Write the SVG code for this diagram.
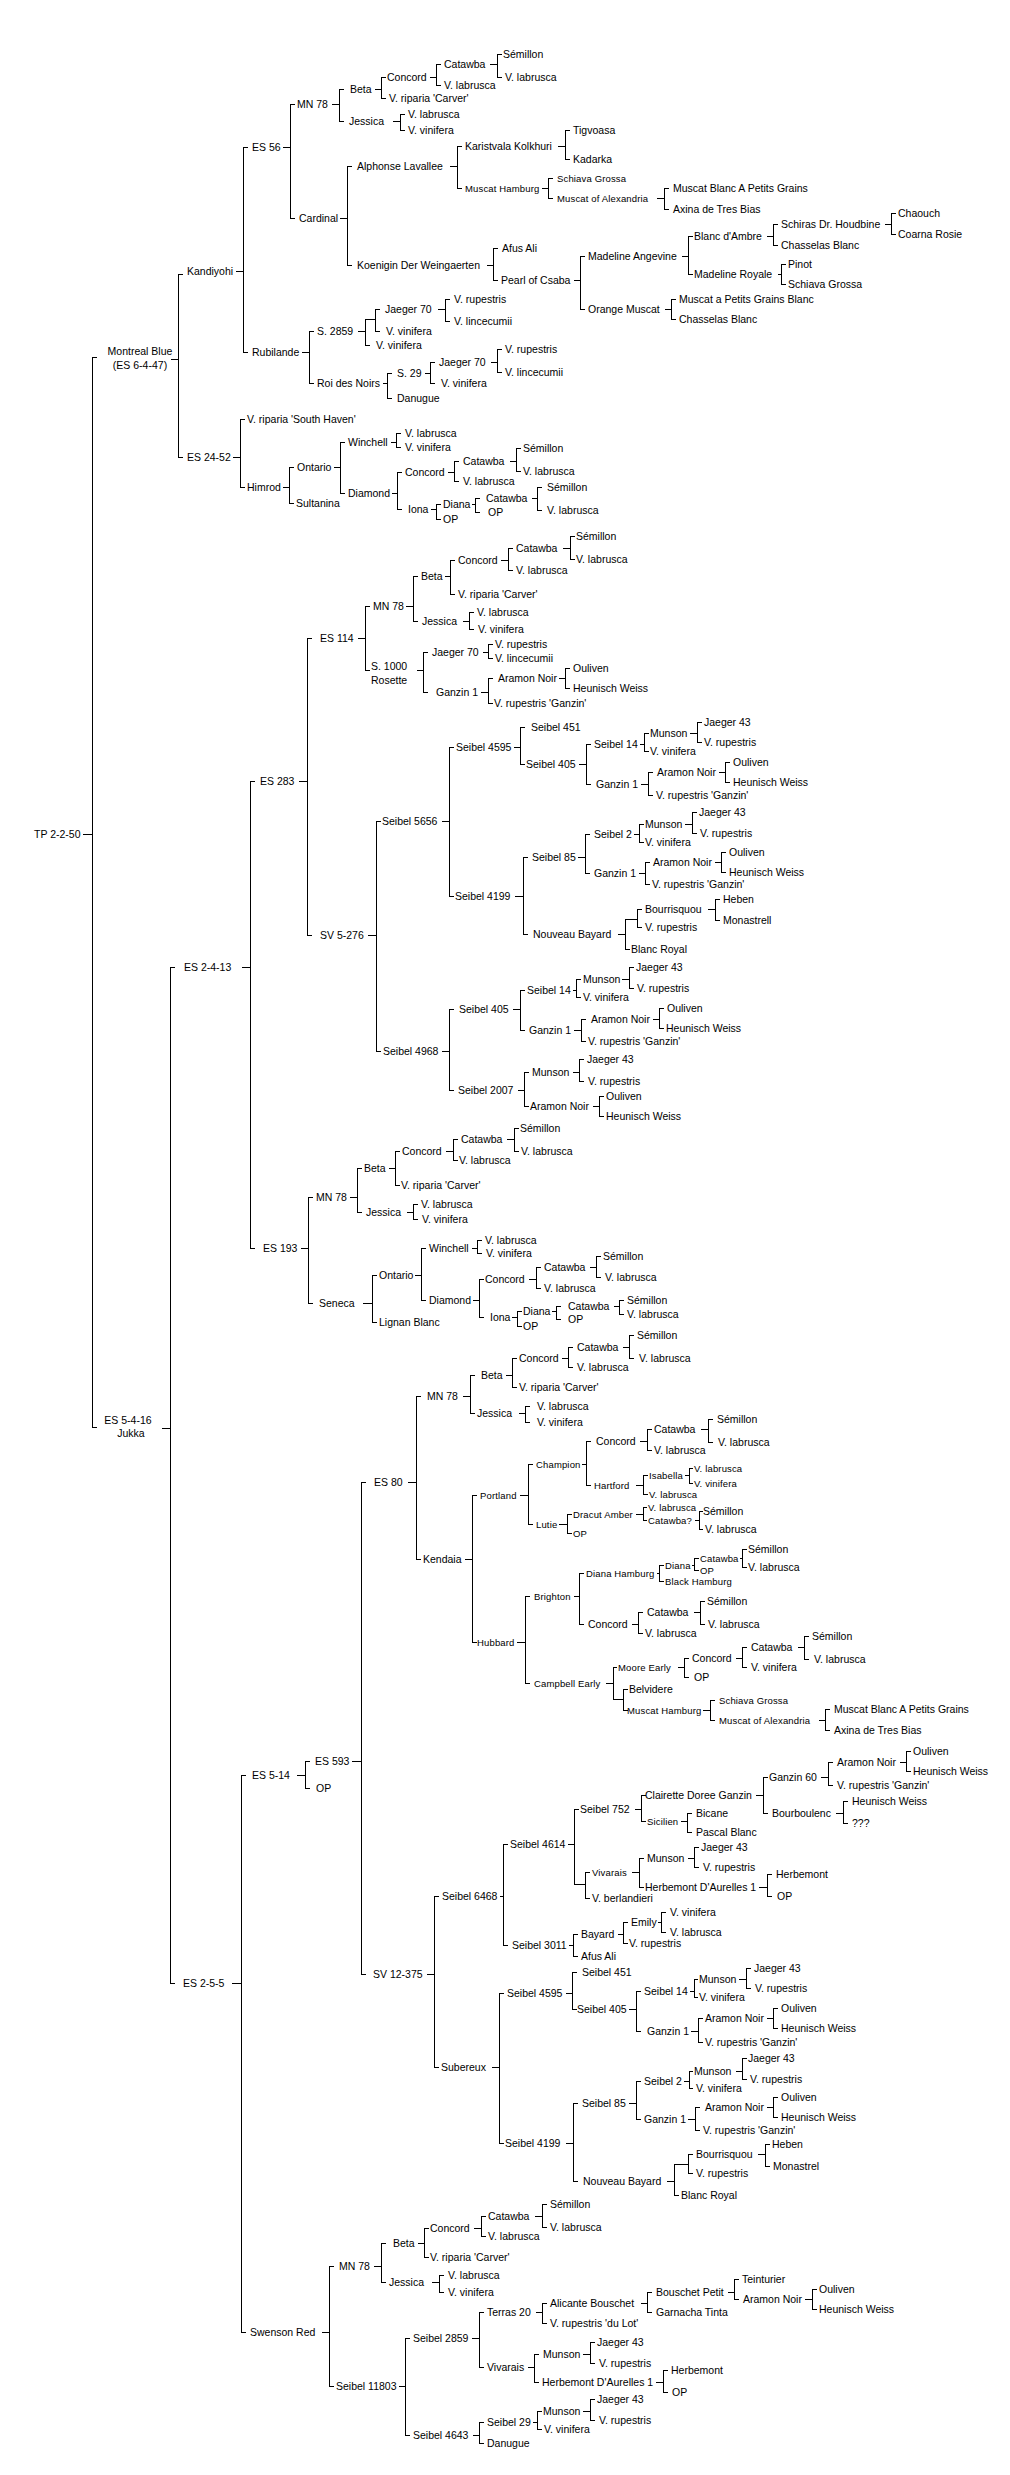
<svg xmlns="http://www.w3.org/2000/svg" width="1010" height="2475" viewBox="0 0 1010 2475">
<style>
text{font-family:"Liberation Sans",Arial,sans-serif;font-size:10.5px;fill:#000;dominant-baseline:central}
.s{font-size:9.5px;letter-spacing:.15px}
.m{text-anchor:middle}
#conn path{fill:none;stroke:#000;stroke-width:1;shape-rendering:crispEdges}
</style>
<rect width="1010" height="2475" fill="#fff"/>
<g id="conn" transform="translate(.5,.5)"><path d="
M82,834H92M96,357H92V1427H96
M170,359H178M182,274H178V457H182
M235,271H243M247,147H243V352H247
M282,147H290M294,104H290V218H294
M331,104H339M343,89H339V121H343
M374,89H381M385,77H381V98H385
M429,77H436M440,64H436V85H440
M489,64H497M501,54H497V77H501
M392,121H400M404,114H400V130H404
M339,218H347M351,166H347V265H351
M449,166H457M461,146H457V188H461
M557,146H565M569,130H565V159H569
M541,188H548M552,178H548V198H552
M656,198H664M668,188H664V209H668
M486,265H493M497,248H493V280H497
M573,280H580M584,256H580V309H584
M681,256H688M692,236H688V274H692
M766,236H773M777,224H773V245H777
M884,224H891M895,213H891V234H895
M777,274H781M785,264H781V284H785
M664,309H671M675,299H671V319H675
M301,352H309M313,331H309V383H313
M357,331H365M375,319H365V345H369M379,309H375V331H379
M437,309H445M449,299H445V321H449
M382,383H387M391,373H387V398H391
M424,373H430M434,362H430V383H434
M490,362H497M501,349H497V372H501
M232,457H240M244,419H240V487H244
M282,487H289M293,467H289V503H293
M333,467H340M344,442H340V493H344
M390,442H396M400,433H396V447H400
M391,493H397M401,472H397V509H401
M447,472H454M458,461H454V481H458
M509,461H516M520,448H516V471H520
M430,509H436M440,504H436V519H440
M471,504H475M479,498H475V512H479
M531,498H537M541,487H537V510H541
M161,1428H170M174,967H170V1983H174
M241,967H250M254,781H250V1248H254
M298,781H307M311,638H307V935H311
M357,638H365M369,606H365V670H369
M405,606H413M417,576H413V621H417
M444,576H450M454,560H450V594H454
M500,560H508M512,548H508V570H512
M562,548H570M574,536H570V559H574
M462,621H469M473,612H469V629H473
M416,670H423M427,652H423V692H427
M482,652H488M492,644H488V658H492
M480,692H488M492,678H488V703H492
M558,678H565M569,668H565V688H569
M367,935H376M380,821H376V1051H380
M441,821H449M453,747H449V896H453
M513,747H520M524,727H520V764H524
M578,764H586M590,744H586V784H590
M639,744H644M648,733H644V751H648
M689,733H697M701,722H697V742H701
M640,784H648M652,772H648V795H652
M718,772H725M729,762H725V782H729
M514,896H523M527,857H523V934H527
M577,857H585M589,834H585V873H589
M633,834H639M643,824H639V842H643
M684,824H692M696,812H692V833H696
M638,873H645M649,862H645V884H649
M714,862H721M725,852H721V872H725
M617,934H625M637,919H625V949H629M641,909H637V927H641
M707,909H715M719,899H715V920H719
M441,1051H449M453,1009H449V1090H453
M512,1009H520M524,990H520V1030H524
M572,990H576M580,979H576V997H580
M621,979H629M633,967H629V988H633
M573,1030H581M585,1019H581V1041H585
M652,1019H659M663,1008H659V1028H663
M517,1090H524M528,1072H524V1106H528
M572,1072H579M583,1059H579V1081H583
M592,1106H599M603,1096H599V1116H603
M300,1248H308M312,1197H308V1303H312
M349,1197H357M361,1168H357V1212H361
M388,1168H395M399,1151H395V1185H399
M445,1151H453M457,1139H453V1160H457
M506,1139H514M518,1128H514V1151H518
M406,1212H413M417,1204H413V1219H417
M362,1303H372M376,1275H372V1322H376
M414,1275H421M425,1248H421V1300H425
M471,1248H477M481,1240H477V1253H481
M472,1300H479M483,1279H479V1317H483
M528,1279H536M540,1267H536V1288H540
M589,1267H596M600,1256H596V1277H600
M511,1317H517M521,1311H517V1326H521
M551,1311H556M560,1306H556V1319H560
M613,1306H619M623,1300H619V1314H623
M231,1983H241M245,1775H241V2332H245
M296,1775H305M309,1761H305V1788H309
M351,1761H361M365,1482H361V1974H365
M407,1482H416M420,1396H416V1559H420
M462,1396H470M474,1375H470V1413H474
M505,1375H512M516,1358H512V1387H516
M561,1358H568M572,1347H568V1367H572
M622,1347H629M633,1335H629V1358H633
M518,1413H525M529,1406H525V1422H529
M464,1559H472M476,1495H472V1642H476
M519,1495H528M532,1464H528V1524H532
M581,1464H586M590,1441H586V1485H590
M639,1441H647M651,1429H647V1450H651
M700,1429H708M712,1419H708V1442H712
M635,1485H643M647,1475H643V1494H647
M684,1475H689M692,1468H689V1483H692
M558,1524H567M571,1514H567V1533H571
M635,1514H643M646,1507H643V1520H646
M694,1520H699M702,1511H699V1529H702
M516,1642H525M529,1596H525V1683H529
M573,1596H579M583,1573H579V1624H583
M656,1573H659M663,1565H659V1581H663
M691,1565H694M698,1558H694V1570H698
M739,1558H742M746,1549H742V1567H746
M631,1624H638M642,1612H638V1633H642
M693,1612H700M704,1601H700V1624H704
M605,1683H613M616,1667H613V1699H623M627,1689H623V1710H627
M677,1667H684M688,1658H684V1677H688
M735,1658H742M746,1647H742V1667H746
M797,1647H804M808,1636H804V1659H808
M702,1710H710M714,1700H710V1720H714
M818,1720H825M829,1709H825V1730H829
M426,1974H434M438,1896H434V2067H438
M499,1896H503M507,1844H503V1945H507
M567,1844H574M578,1809H574V1884H585M589,1872H585V1898H589
M634,1809H641M645,1795H641V1821H645
M755,1795H763M767,1777H763V1813H767
M820,1777H828M832,1762H828V1785H832
M899,1762H906M910,1751H906V1771H910
M835,1813H843M847,1801H843V1823H847
M680,1821H687M691,1813H687V1832H691
M631,1872H639M643,1858H639V1887H643
M687,1858H694M698,1847H694V1867H698
M758,1887H767M771,1874H767V1896H771
M568,1945H573M577,1934H573V1956H577
M617,1934H623M627,1922H623V1943H627
M657,1922H661M665,1912H661V1932H665
M491,2067H499M503,1993H499V2143H503
M565,1993H572M576,1972H572V2009H576
M628,2009H636M640,1991H636V2031H640
M689,1991H694M697,1979H694V1997H697
M738,1979H746M750,1968H746V1988H750
M690,2031H698M702,2018H698V2042H702
M766,2018H773M777,2008H773V2028H777
M565,2143H573M577,2103H573V2181H577
M628,2103H636M640,2081H636V2119H640
M683,2081H689M692,2071H689V2088H692
M735,2071H742M746,2058H742V2079H746
M687,2119H695M699,2107H695V2130H699
M766,2107H773M777,2097H773V2117H777
M666,2181H674M688,2164H674V2195H678M692,2154H688V2173H692
M757,2154H765M769,2144H765V2166H769
M321,2332H329M333,2266H329V2386H333
M373,2266H381M385,2243H381V2282H385
M417,2243H424M428,2228H424V2257H428
M473,2228H481M485,2216H481V2236H485
M534,2216H542M546,2204H542V2227H546
M431,2282H439M443,2275H439V2292H443
M398,2386H405M409,2338H405V2435H409
M471,2338H479M483,2312H479V2367H483
M535,2312H542M546,2303H542V2323H546
M640,2303H647M651,2292H647V2312H651
M727,2292H734M738,2279H734V2299H738
M804,2299H812M816,2289H812V2309H816
M527,2367H534M538,2354H534V2382H538
M582,2354H590M594,2342H590V2363H594
M655,2382H663M667,2370H663V2392H667
M472,2435H479M483,2422H479V2443H483
M532,2422H537M541,2411H537V2429H541
M582,2411H590M594,2399H590V2420H594
"/></g>
<g id="nodes">
<g id="n1"><text x="34" y="834">TP 2-2-50</text></g>
<g id="n2"><text class="m" x="140" y="351">Montreal Blue</text><text class="m" x="140" y="365">(ES 6-4-47)</text></g>
<g id="n3"><text x="187" y="271">Kandiyohi</text></g>
<g id="n4"><text x="252" y="147">ES 56</text></g>
<g id="n5"><text x="297" y="104">MN 78</text></g>
<g id="n6"><text x="350" y="89">Beta</text></g>
<g id="n7"><text x="387" y="77">Concord</text></g>
<g id="n8"><text x="444" y="64">Catawba</text></g>
<g id="n9"><text x="503" y="54">Sémillon</text></g>
<g id="n10"><text x="505" y="77">V. labrusca</text></g>
<g id="n11"><text x="444" y="85">V. labrusca</text></g>
<g id="n12"><text x="389" y="98">V. riparia 'Carver'</text></g>
<g id="n13"><text x="349" y="121">Jessica</text></g>
<g id="n14"><text x="408" y="114">V. labrusca</text></g>
<g id="n15"><text x="408" y="130">V. vinifera</text></g>
<g id="n16"><text x="299" y="218">Cardinal</text></g>
<g id="n17"><text x="357" y="166">Alphonse Lavallee</text></g>
<g id="n18"><text x="465" y="146">Karistvala Kolkhuri</text></g>
<g id="n19"><text x="573" y="130">Tigvoasa</text></g>
<g id="n20"><text x="573" y="159">Kadarka</text></g>
<g id="n21"><text class="s" x="465" y="188">Muscat Hamburg</text></g>
<g id="n22"><text class="s" x="557" y="178">Schiava Grossa</text></g>
<g id="n23"><text class="s" x="557" y="198">Muscat of Alexandria</text></g>
<g id="n24"><text x="673" y="188">Muscat Blanc A Petits Grains</text></g>
<g id="n25"><text x="673" y="209">Axina de Tres Bias</text></g>
<g id="n26"><text x="357" y="265">Koenigin Der Weingaerten</text></g>
<g id="n27"><text x="502" y="248">Afus Ali</text></g>
<g id="n28"><text x="501" y="280">Pearl of Csaba</text></g>
<g id="n29"><text x="588" y="256">Madeline Angevine</text></g>
<g id="n30"><text x="694" y="236">Blanc d'Ambre</text></g>
<g id="n31"><text x="781" y="224">Schiras Dr. Houdbine</text></g>
<g id="n32"><text x="898" y="213">Chaouch</text></g>
<g id="n33"><text x="898" y="234">Coarna Rosie</text></g>
<g id="n34"><text x="781" y="245">Chasselas Blanc</text></g>
<g id="n35"><text x="694" y="274">Madeline Royale</text></g>
<g id="n36"><text x="788" y="264">Pinot</text></g>
<g id="n37"><text x="788" y="284">Schiava Grossa</text></g>
<g id="n38"><text x="588" y="309">Orange Muscat</text></g>
<g id="n39"><text x="679" y="299">Muscat a Petits Grains Blanc</text></g>
<g id="n40"><text x="679" y="319">Chasselas Blanc</text></g>
<g id="n41"><text x="252" y="352">Rubilande</text></g>
<g id="n42"><text x="317" y="331">S. 2859</text></g>
<g id="n43"><text x="385" y="309">Jaeger 70</text></g>
<g id="n44"><text x="454" y="299">V. rupestris</text></g>
<g id="n45"><text x="454" y="321">V. lincecumii</text></g>
<g id="n46"><text x="386" y="331">V. vinifera</text></g>
<g id="n47"><text x="376" y="345">V. vinifera</text></g>
<g id="n48"><text x="317" y="383">Roi des Noirs</text></g>
<g id="n49"><text x="397" y="373">S. 29</text></g>
<g id="n50"><text x="439" y="362">Jaeger 70</text></g>
<g id="n51"><text x="505" y="349">V. rupestris</text></g>
<g id="n52"><text x="505" y="372">V. lincecumii</text></g>
<g id="n53"><text x="441" y="383">V. vinifera</text></g>
<g id="n54"><text x="397" y="398">Danugue</text></g>
<g id="n55"><text x="187" y="457">ES 24-52</text></g>
<g id="n56"><text x="247" y="419">V. riparia 'South Haven'</text></g>
<g id="n57"><text x="247" y="487">Himrod</text></g>
<g id="n58"><text x="297" y="467">Ontario</text></g>
<g id="n59"><text x="348" y="442">Winchell</text></g>
<g id="n60"><text x="405" y="433">V. labrusca</text></g>
<g id="n61"><text x="405" y="447">V. vinifera</text></g>
<g id="n62"><text x="348" y="493">Diamond</text></g>
<g id="n63"><text x="405" y="472">Concord</text></g>
<g id="n64"><text x="463" y="461">Catawba</text></g>
<g id="n65"><text x="523" y="448">Sémillon</text></g>
<g id="n66"><text x="523" y="471">V. labrusca</text></g>
<g id="n67"><text x="463" y="481">V. labrusca</text></g>
<g id="n68"><text x="408" y="509">Iona</text></g>
<g id="n69"><text x="443" y="504">Diana</text></g>
<g id="n70"><text x="443" y="519">OP</text></g>
<g id="n71"><text x="486" y="498">Catawba</text></g>
<g id="n72"><text x="488" y="512">OP</text></g>
<g id="n73"><text x="547" y="487">Sémillon</text></g>
<g id="n74"><text x="547" y="510">V. labrusca</text></g>
<g id="n75"><text x="296" y="503">Sultanina</text></g>
<g id="n76"><text class="m" x="128" y="1420">ES 5-4-16</text><text class="m" x="131" y="1433">Jukka</text></g>
<g id="n77"><text x="184" y="967">ES 2-4-13</text></g>
<g id="n78"><text x="260" y="781">ES 283</text></g>
<g id="n79"><text x="320" y="638">ES 114</text></g>
<g id="n80"><text x="373" y="606">MN 78</text></g>
<g id="n81"><text x="421" y="576">Beta</text></g>
<g id="n82"><text x="458" y="560">Concord</text></g>
<g id="n83"><text x="516" y="548">Catawba</text></g>
<g id="n84"><text x="576" y="536">Sémillon</text></g>
<g id="n85"><text x="576" y="559">V. labrusca</text></g>
<g id="n86"><text x="516" y="570">V. labrusca</text></g>
<g id="n87"><text x="458" y="594">V. riparia 'Carver'</text></g>
<g id="n88"><text x="422" y="621">Jessica</text></g>
<g id="n89"><text x="477" y="612">V. labrusca</text></g>
<g id="n90"><text x="478" y="629">V. vinifera</text></g>
<g id="n91"><text x="371" y="666">S. 1000</text><text x="371" y="680">Rosette</text></g>
<g id="n92"><text x="432" y="652">Jaeger 70</text></g>
<g id="n93"><text x="495" y="644">V. rupestris</text></g>
<g id="n94"><text x="495" y="658">V. lincecumii</text></g>
<g id="n95"><text x="436" y="692">Ganzin 1</text></g>
<g id="n96"><text x="498" y="678">Aramon Noir</text></g>
<g id="n97"><text x="573" y="668">Ouliven</text></g>
<g id="n98"><text x="573" y="688">Heunisch Weiss</text></g>
<g id="n99"><text x="494" y="703">V. rupestris 'Ganzin'</text></g>
<g id="n100"><text x="320" y="935">SV 5-276</text></g>
<g id="n101"><text x="382" y="821">Seibel 5656</text></g>
<g id="n102"><text x="456" y="747">Seibel 4595</text></g>
<g id="n103"><text x="531" y="727">Seibel 451</text></g>
<g id="n104"><text x="526" y="764">Seibel 405</text></g>
<g id="n105"><text x="594" y="744">Seibel 14</text></g>
<g id="n106"><text x="650" y="733">Munson</text></g>
<g id="n107"><text x="704" y="722">Jaeger 43</text></g>
<g id="n108"><text x="704" y="742">V. rupestris</text></g>
<g id="n109"><text x="650" y="751">V. vinifera</text></g>
<g id="n110"><text x="596" y="784">Ganzin 1</text></g>
<g id="n111"><text x="657" y="772">Aramon Noir</text></g>
<g id="n112"><text x="733" y="762">Ouliven</text></g>
<g id="n113"><text x="733" y="782">Heunisch Weiss</text></g>
<g id="n114"><text x="656" y="795">V. rupestris 'Ganzin'</text></g>
<g id="n115"><text x="455" y="896">Seibel 4199</text></g>
<g id="n116"><text x="532" y="857">Seibel 85</text></g>
<g id="n117"><text x="594" y="834">Seibel 2</text></g>
<g id="n118"><text x="645" y="824">Munson</text></g>
<g id="n119"><text x="699" y="812">Jaeger 43</text></g>
<g id="n120"><text x="700" y="833">V. rupestris</text></g>
<g id="n121"><text x="645" y="842">V. vinifera</text></g>
<g id="n122"><text x="594" y="873">Ganzin 1</text></g>
<g id="n123"><text x="653" y="862">Aramon Noir</text></g>
<g id="n124"><text x="729" y="852">Ouliven</text></g>
<g id="n125"><text x="729" y="872">Heunisch Weiss</text></g>
<g id="n126"><text x="652" y="884">V. rupestris 'Ganzin'</text></g>
<g id="n127"><text x="533" y="934">Nouveau Bayard</text></g>
<g id="n128"><text x="645" y="909">Bourrisquou</text></g>
<g id="n129"><text x="723" y="899">Heben</text></g>
<g id="n130"><text x="723" y="920">Monastrell</text></g>
<g id="n131"><text x="645" y="927">V. rupestris</text></g>
<g id="n132"><text x="631" y="949">Blanc Royal</text></g>
<g id="n133"><text x="383" y="1051">Seibel 4968</text></g>
<g id="n134"><text x="459" y="1009">Seibel 405</text></g>
<g id="n135"><text x="527" y="990">Seibel 14</text></g>
<g id="n136"><text x="583" y="979">Munson</text></g>
<g id="n137"><text x="636" y="967">Jaeger 43</text></g>
<g id="n138"><text x="637" y="988">V. rupestris</text></g>
<g id="n139"><text x="583" y="997">V. vinifera</text></g>
<g id="n140"><text x="529" y="1030">Ganzin 1</text></g>
<g id="n141"><text x="591" y="1019">Aramon Noir</text></g>
<g id="n142"><text x="667" y="1008">Ouliven</text></g>
<g id="n143"><text x="666" y="1028">Heunisch Weiss</text></g>
<g id="n144"><text x="588" y="1041">V. rupestris 'Ganzin'</text></g>
<g id="n145"><text x="458" y="1090">Seibel 2007</text></g>
<g id="n146"><text x="532" y="1072">Munson</text></g>
<g id="n147"><text x="587" y="1059">Jaeger 43</text></g>
<g id="n148"><text x="588" y="1081">V. rupestris</text></g>
<g id="n149"><text x="530" y="1106">Aramon Noir</text></g>
<g id="n150"><text x="606" y="1096">Ouliven</text></g>
<g id="n151"><text x="606" y="1116">Heunisch Weiss</text></g>
<g id="n152"><text x="263" y="1248">ES 193</text></g>
<g id="n153"><text x="316" y="1197">MN 78</text></g>
<g id="n154"><text x="364" y="1168">Beta</text></g>
<g id="n155"><text x="402" y="1151">Concord</text></g>
<g id="n156"><text x="461" y="1139">Catawba</text></g>
<g id="n157"><text x="520" y="1128">Sémillon</text></g>
<g id="n158"><text x="521" y="1151">V. labrusca</text></g>
<g id="n159"><text x="459" y="1160">V. labrusca</text></g>
<g id="n160"><text x="401" y="1185">V. riparia 'Carver'</text></g>
<g id="n161"><text x="366" y="1212">Jessica</text></g>
<g id="n162"><text x="421" y="1204">V. labrusca</text></g>
<g id="n163"><text x="422" y="1219">V. vinifera</text></g>
<g id="n164"><text x="319" y="1303">Seneca</text></g>
<g id="n165"><text x="379" y="1275">Ontario</text></g>
<g id="n166"><text x="429" y="1248">Winchell</text></g>
<g id="n167"><text x="485" y="1240">V. labrusca</text></g>
<g id="n168"><text x="486" y="1253">V. vinifera</text></g>
<g id="n169"><text x="429" y="1300">Diamond</text></g>
<g id="n170"><text x="485" y="1279">Concord</text></g>
<g id="n171"><text x="544" y="1267">Catawba</text></g>
<g id="n172"><text x="603" y="1256">Sémillon</text></g>
<g id="n173"><text x="605" y="1277">V. labrusca</text></g>
<g id="n174"><text x="544" y="1288">V. labrusca</text></g>
<g id="n175"><text x="490" y="1317">Iona</text></g>
<g id="n176"><text x="523" y="1311">Diana</text></g>
<g id="n177"><text x="523" y="1326">OP</text></g>
<g id="n178"><text x="568" y="1306">Catawba</text></g>
<g id="n179"><text x="568" y="1319">OP</text></g>
<g id="n180"><text x="627" y="1300">Sémillon</text></g>
<g id="n181"><text x="627" y="1314">V. labrusca</text></g>
<g id="n182"><text x="379" y="1322">Lignan Blanc</text></g>
<g id="n183"><text x="183" y="1983">ES 2-5-5</text></g>
<g id="n184"><text x="252" y="1775">ES 5-14</text></g>
<g id="n185"><text x="315" y="1761">ES 593</text></g>
<g id="n186"><text x="316" y="1788">OP</text></g>
<g id="n187"><text x="374" y="1482">ES 80</text></g>
<g id="n188"><text x="427" y="1396">MN 78</text></g>
<g id="n189"><text x="481" y="1375">Beta</text></g>
<g id="n190"><text x="519" y="1358">Concord</text></g>
<g id="n191"><text x="577" y="1347">Catawba</text></g>
<g id="n192"><text x="637" y="1335">Sémillon</text></g>
<g id="n193"><text x="639" y="1358">V. labrusca</text></g>
<g id="n194"><text x="577" y="1367">V. labrusca</text></g>
<g id="n195"><text x="519" y="1387">V. riparia 'Carver'</text></g>
<g id="n196"><text x="477" y="1413">Jessica</text></g>
<g id="n197"><text x="537" y="1406">V. labrusca</text></g>
<g id="n198"><text x="537" y="1422">V. vinifera</text></g>
<g id="n199"><text x="423" y="1559">Kendaia</text></g>
<g id="n200"><text class="s" x="480" y="1495">Portland</text></g>
<g id="n201"><text class="s" x="536" y="1464">Champion</text></g>
<g id="n202"><text x="596" y="1441">Concord</text></g>
<g id="n203"><text x="654" y="1429">Catawba</text></g>
<g id="n204"><text x="717" y="1419">Sémillon</text></g>
<g id="n205"><text x="718" y="1442">V. labrusca</text></g>
<g id="n206"><text x="654" y="1450">V. labrusca</text></g>
<g id="n207"><text class="s" x="594" y="1485">Hartford</text></g>
<g id="n208"><text class="s" x="649" y="1475">Isabella</text></g>
<g id="n209"><text class="s" x="694" y="1468">V. labrusca</text></g>
<g id="n210"><text class="s" x="694" y="1483">V. vinifera</text></g>
<g id="n211"><text class="s" x="649" y="1494">V. labrusca</text></g>
<g id="n212"><text class="s" x="536" y="1524">Lutie</text></g>
<g id="n213"><text class="s" x="573" y="1514">Dracut Amber</text></g>
<g id="n214"><text class="s" x="648" y="1507">V. labrusca</text></g>
<g id="n215"><text class="s" x="648" y="1520">Catawba?</text></g>
<g id="n216"><text x="703" y="1511">Sémillon</text></g>
<g id="n217"><text x="705" y="1529">V. labrusca</text></g>
<g id="n218"><text class="s" x="573" y="1533">OP</text></g>
<g id="n219"><text class="s" x="477" y="1642">Hubbard</text></g>
<g id="n220"><text class="s" x="534" y="1596">Brighton</text></g>
<g id="n221"><text class="s" x="586" y="1573">Diana Hamburg</text></g>
<g id="n222"><text class="s" x="665" y="1565">Diana</text></g>
<g id="n223"><text class="s" x="700" y="1558">Catawba</text></g>
<g id="n224"><text x="748" y="1549">Sémillon</text></g>
<g id="n225"><text x="748" y="1567">V. labrusca</text></g>
<g id="n226"><text class="s" x="700" y="1570">OP</text></g>
<g id="n227"><text class="s" x="665" y="1581">Black Hamburg</text></g>
<g id="n228"><text x="588" y="1624">Concord</text></g>
<g id="n229"><text x="647" y="1612">Catawba</text></g>
<g id="n230"><text x="707" y="1601">Sémillon</text></g>
<g id="n231"><text x="708" y="1624">V. labrusca</text></g>
<g id="n232"><text x="645" y="1633">V. labrusca</text></g>
<g id="n233"><text class="s" x="534" y="1683">Campbell Early</text></g>
<g id="n234"><text class="s" x="618" y="1667">Moore Early</text></g>
<g id="n235"><text x="692" y="1658">Concord</text></g>
<g id="n236"><text x="751" y="1647">Catawba</text></g>
<g id="n237"><text x="812" y="1636">Sémillon</text></g>
<g id="n238"><text x="814" y="1659">V. labrusca</text></g>
<g id="n239"><text x="751" y="1667">V. vinifera</text></g>
<g id="n240"><text x="694" y="1677">OP</text></g>
<g id="n241"><text x="629" y="1689">Belvidere</text></g>
<g id="n242"><text class="s" x="627" y="1710">Muscat Hamburg</text></g>
<g id="n243"><text class="s" x="719" y="1700">Schiava Grossa</text></g>
<g id="n244"><text class="s" x="719" y="1720">Muscat of Alexandria</text></g>
<g id="n245"><text x="834" y="1709">Muscat Blanc A Petits Grains</text></g>
<g id="n246"><text x="834" y="1730">Axina de Tres Bias</text></g>
<g id="n247"><text x="373" y="1974">SV 12-375</text></g>
<g id="n248"><text x="442" y="1896">Seibel 6468</text></g>
<g id="n249"><text x="510" y="1844">Seibel 4614</text></g>
<g id="n250"><text x="580" y="1809">Seibel 752</text></g>
<g id="n251"><text x="645" y="1795">Clairette Doree Ganzin</text></g>
<g id="n252"><text x="769" y="1777">Ganzin 60</text></g>
<g id="n253"><text x="837" y="1762">Aramon Noir</text></g>
<g id="n254"><text x="913" y="1751">Ouliven</text></g>
<g id="n255"><text x="913" y="1771">Heunisch Weiss</text></g>
<g id="n256"><text x="837" y="1785">V. rupestris 'Ganzin'</text></g>
<g id="n257"><text x="772" y="1813">Bourboulenc</text></g>
<g id="n258"><text x="852" y="1801">Heunisch Weiss</text></g>
<g id="n259"><text x="852" y="1823">???</text></g>
<g id="n260"><text class="s" x="647" y="1821">Sicilien</text></g>
<g id="n261"><text x="696" y="1813">Bicane</text></g>
<g id="n262"><text x="696" y="1832">Pascal Blanc</text></g>
<g id="n263"><text class="s" x="592" y="1872">Vivarais</text></g>
<g id="n264"><text x="647" y="1858">Munson</text></g>
<g id="n265"><text x="701" y="1847">Jaeger 43</text></g>
<g id="n266"><text x="703" y="1867">V. rupestris</text></g>
<g id="n267"><text x="645" y="1887">Herbemont D'Aurelles 1</text></g>
<g id="n268"><text x="776" y="1874">Herbemont</text></g>
<g id="n269"><text x="777" y="1896">OP</text></g>
<g id="n270"><text x="592" y="1898">V. berlandieri</text></g>
<g id="n271"><text x="512" y="1945">Seibel 3011</text></g>
<g id="n272"><text x="581" y="1934">Bayard</text></g>
<g id="n273"><text x="631" y="1922">Emily</text></g>
<g id="n274"><text x="670" y="1912">V. vinifera</text></g>
<g id="n275"><text x="670" y="1932">V. labrusca</text></g>
<g id="n276"><text x="629" y="1943">V. rupestris</text></g>
<g id="n277"><text x="581" y="1956">Afus Ali</text></g>
<g id="n278"><text x="441" y="2067">Subereux</text></g>
<g id="n279"><text x="507" y="1993">Seibel 4595</text></g>
<g id="n280"><text x="582" y="1972">Seibel 451</text></g>
<g id="n281"><text x="577" y="2009">Seibel 405</text></g>
<g id="n282"><text x="644" y="1991">Seibel 14</text></g>
<g id="n283"><text x="699" y="1979">Munson</text></g>
<g id="n284"><text x="754" y="1968">Jaeger 43</text></g>
<g id="n285"><text x="755" y="1988">V. rupestris</text></g>
<g id="n286"><text x="699" y="1997">V. vinifera</text></g>
<g id="n287"><text x="647" y="2031">Ganzin 1</text></g>
<g id="n288"><text x="705" y="2018">Aramon Noir</text></g>
<g id="n289"><text x="781" y="2008">Ouliven</text></g>
<g id="n290"><text x="781" y="2028">Heunisch Weiss</text></g>
<g id="n291"><text x="705" y="2042">V. rupestris 'Ganzin'</text></g>
<g id="n292"><text x="505" y="2143">Seibel 4199</text></g>
<g id="n293"><text x="582" y="2103">Seibel 85</text></g>
<g id="n294"><text x="644" y="2081">Seibel 2</text></g>
<g id="n295"><text x="694" y="2071">Munson</text></g>
<g id="n296"><text x="748" y="2058">Jaeger 43</text></g>
<g id="n297"><text x="750" y="2079">V. rupestris</text></g>
<g id="n298"><text x="696" y="2088">V. vinifera</text></g>
<g id="n299"><text x="644" y="2119">Ganzin 1</text></g>
<g id="n300"><text x="705" y="2107">Aramon Noir</text></g>
<g id="n301"><text x="781" y="2097">Ouliven</text></g>
<g id="n302"><text x="781" y="2117">Heunisch Weiss</text></g>
<g id="n303"><text x="703" y="2130">V. rupestris 'Ganzin'</text></g>
<g id="n304"><text x="583" y="2181">Nouveau Bayard</text></g>
<g id="n305"><text x="696" y="2154">Bourrisquou</text></g>
<g id="n306"><text x="772" y="2144">Heben</text></g>
<g id="n307"><text x="773" y="2166">Monastrel</text></g>
<g id="n308"><text x="696" y="2173">V. rupestris</text></g>
<g id="n309"><text x="681" y="2195">Blanc Royal</text></g>
<g id="n310"><text x="250" y="2332">Swenson Red</text></g>
<g id="n311"><text x="339" y="2266">MN 78</text></g>
<g id="n312"><text x="393" y="2243">Beta</text></g>
<g id="n313"><text x="430" y="2228">Concord</text></g>
<g id="n314"><text x="488" y="2216">Catawba</text></g>
<g id="n315"><text x="550" y="2204">Sémillon</text></g>
<g id="n316"><text x="550" y="2227">V. labrusca</text></g>
<g id="n317"><text x="488" y="2236">V. labrusca</text></g>
<g id="n318"><text x="430" y="2257">V. riparia 'Carver'</text></g>
<g id="n319"><text x="389" y="2282">Jessica</text></g>
<g id="n320"><text x="448" y="2275">V. labrusca</text></g>
<g id="n321"><text x="448" y="2292">V. vinifera</text></g>
<g id="n322"><text x="336" y="2386">Seibel 11803</text></g>
<g id="n323"><text x="413" y="2338">Seibel 2859</text></g>
<g id="n324"><text x="487" y="2312">Terras 20</text></g>
<g id="n325"><text x="550" y="2303">Alicante Bouschet</text></g>
<g id="n326"><text x="656" y="2292">Bouschet Petit</text></g>
<g id="n327"><text x="742" y="2279">Teinturier</text></g>
<g id="n328"><text x="743" y="2299">Aramon Noir</text></g>
<g id="n329"><text x="819" y="2289">Ouliven</text></g>
<g id="n330"><text x="819" y="2309">Heunisch Weiss</text></g>
<g id="n331"><text x="656" y="2312">Garnacha Tinta</text></g>
<g id="n332"><text x="550" y="2323">V. rupestris 'du Lot'</text></g>
<g id="n333"><text x="487" y="2367">Vivarais</text></g>
<g id="n334"><text x="543" y="2354">Munson</text></g>
<g id="n335"><text x="597" y="2342">Jaeger 43</text></g>
<g id="n336"><text x="599" y="2363">V. rupestris</text></g>
<g id="n337"><text x="542" y="2382">Herbemont D'Aurelles 1</text></g>
<g id="n338"><text x="671" y="2370">Herbemont</text></g>
<g id="n339"><text x="672" y="2392">OP</text></g>
<g id="n340"><text x="413" y="2435">Seibel 4643</text></g>
<g id="n341"><text x="487" y="2422">Seibel 29</text></g>
<g id="n342"><text x="543" y="2411">Munson</text></g>
<g id="n343"><text x="597" y="2399">Jaeger 43</text></g>
<g id="n344"><text x="599" y="2420">V. rupestris</text></g>
<g id="n345"><text x="544" y="2429">V. vinifera</text></g>
<g id="n346"><text x="487" y="2443">Danugue</text></g>
</g>
</svg>
